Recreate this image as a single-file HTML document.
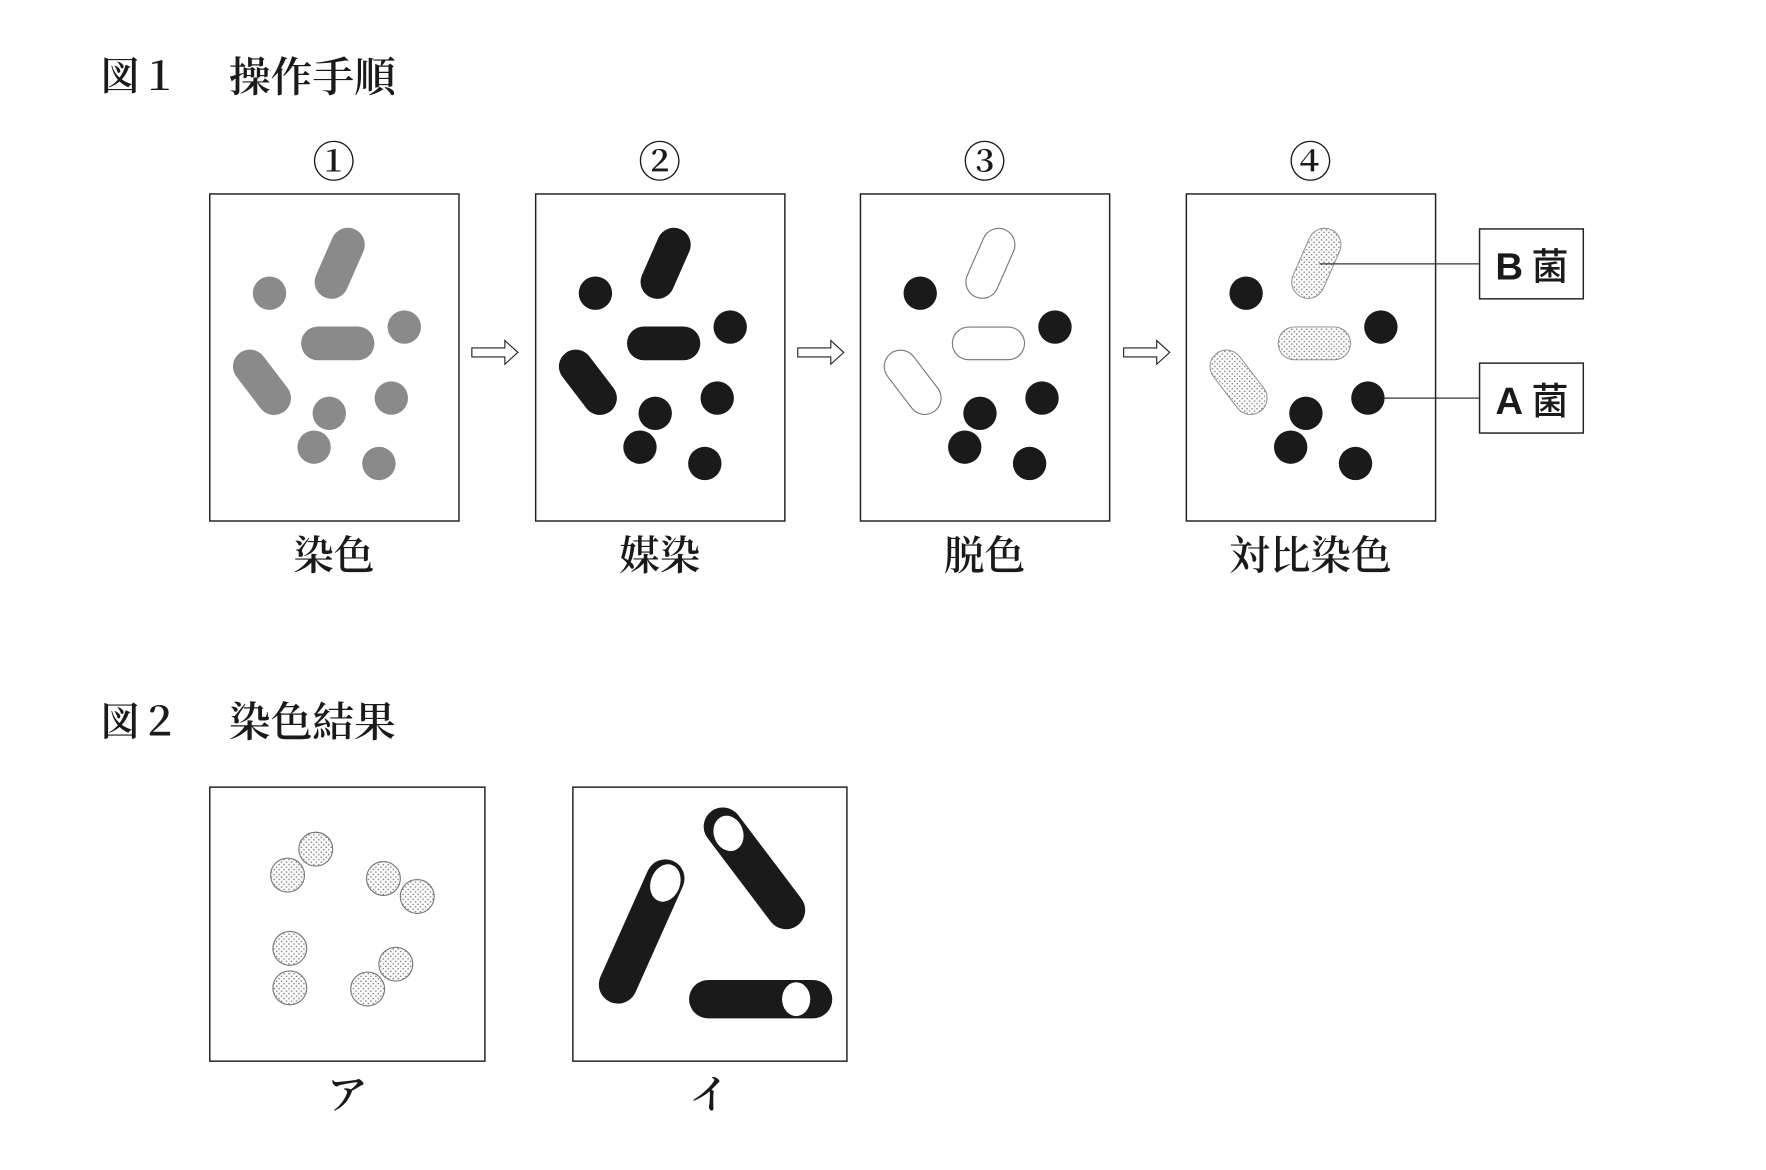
<!DOCTYPE html>
<html><head><meta charset="utf-8"><style>
html,body{margin:0;padding:0;background:#fff;}
svg{display:block;}
.t{font-family:"Liberation Serif","Noto Serif CJK SC",serif;fill:#1a1a1a;font-weight:600;}
.g{font-family:"Liberation Sans","Noto Sans CJK JP",sans-serif;fill:#1a1a1a;font-weight:bold;}
</style></head><body>
<svg width="1766" height="1170" viewBox="0 0 1566 1037.5" preserveAspectRatio="none" xmlns="http://www.w3.org/2000/svg">
<defs>
<pattern id="dots" width="4.4" height="4.4" patternUnits="userSpaceOnUse">
<rect width="4.4" height="4.4" fill="#fafafa"/>
<circle cx="1.1" cy="1.1" r="0.6" fill="#555"/>
<circle cx="3.3" cy="3.3" r="0.6" fill="#555"/>
</pattern>
<g id="cells">
<circle cx="53" cy="88" r="14.8"/>
<circle cx="172.5" cy="118" r="14.8"/>
<circle cx="161" cy="181" r="14.8"/>
<circle cx="106" cy="194.5" r="14.8"/>
<circle cx="92.5" cy="224.5" r="14.8"/>
<circle cx="150" cy="239" r="14.8"/>
</g>
<g id="arrow"><path d="M0,-4 L29.3,-4 L29.3,-10.5 L40.8,0 L29.3,10.5 L29.3,4 L0,4 Z" fill="#fff" stroke="#222" stroke-width="1"/></g>
</defs>
<rect width="1566" height="1037.5" fill="#fff"/>

<text class="t" x="89" y="80" font-size="35">図１</text>
<text class="t" x="203" y="81" font-size="37">操作手順</text>
<text class="t" x="89" y="652" font-size="35">図２</text>
<text class="t" x="203" y="653" font-size="37">染色結果</text>

<g fill="none" stroke="#222" stroke-width="1.3">
<rect x="186" y="172" width="221" height="290"/>
<rect x="475" y="172" width="221" height="290"/>
<rect x="763" y="172" width="221" height="290"/>
<rect x="1052" y="172" width="221" height="290"/>
<rect x="186" y="698" width="244" height="243"/>
<rect x="508" y="698" width="243" height="243"/>
<rect x="1312" y="203" width="92" height="62"/>
<rect x="1312" y="322" width="92" height="62"/>
</g>

<g class="t" font-size="38" text-anchor="middle">
<text x="296" y="157">①</text>
<text x="585" y="157">②</text>
<text x="873" y="157">③</text>
<text x="1162" y="157">④</text>
</g>
<g class="t" font-size="36" text-anchor="middle">
<text x="296" y="505">染色</text>
<text x="585" y="505">媒染</text>
<text x="873" y="505">脱色</text>
<text x="1162" y="505">対比染色</text>
<text x="308" y="983">ア</text>
<text x="629" y="983">イ</text>
</g>

<use href="#arrow" x="418.4" y="312.5"/>
<use href="#arrow" x="707.4" y="312.5"/>
<use href="#arrow" x="996.4" y="312.5"/>

<g transform="translate(186,172)">
<g fill="#8a8a8a"><use href="#cells"/></g>
<g stroke="#8a8a8a" stroke-width="30" stroke-linecap="round" fill="none">
<line x1="122.5" y1="45" x2="108" y2="78"/>
<line x1="96" y1="132.5" x2="131" y2="132.5"/>
<line x1="35.6" y1="153" x2="57" y2="181"/>
</g>
</g>
<g transform="translate(475,172)">
<g fill="#1a1a1a"><use href="#cells"/></g>
<g stroke="#1a1a1a" stroke-width="30" stroke-linecap="round" fill="none">
<line x1="122.5" y1="45" x2="108" y2="78"/>
<line x1="96" y1="132.5" x2="131" y2="132.5"/>
<line x1="35.6" y1="153" x2="57" y2="181"/>
</g>
</g>
<g transform="translate(763,172)">
<g fill="#1a1a1a"><use href="#cells"/></g>
<g stroke="#777" stroke-width="30" stroke-linecap="round" fill="none">
<line x1="122.5" y1="45" x2="108" y2="78"/>
<line x1="96" y1="132.5" x2="131" y2="132.5"/>
<line x1="35.6" y1="153" x2="57" y2="181"/>
</g>
<g stroke="#fff" stroke-width="28" stroke-linecap="round" fill="none">
<line x1="122.5" y1="45" x2="108" y2="78"/>
<line x1="96" y1="132.5" x2="131" y2="132.5"/>
<line x1="35.6" y1="153" x2="57" y2="181"/>
</g>
</g>
<g transform="translate(1052,172)">
<g fill="#1a1a1a"><use href="#cells"/></g>
<g stroke="#888" stroke-width="30" stroke-linecap="round" fill="none">
<line x1="122.5" y1="45" x2="108" y2="78"/>
<line x1="96" y1="132.5" x2="131" y2="132.5"/>
<line x1="35.6" y1="153" x2="57" y2="181"/>
</g>
<g stroke="url(#dots)" stroke-width="28.4" stroke-linecap="round" fill="none">
<line x1="122.5" y1="45" x2="108" y2="78"/>
<line x1="96" y1="132.5" x2="131" y2="132.5"/>
<line x1="35.6" y1="153" x2="57" y2="181"/>
</g>
</g>
<g stroke="#333" stroke-width="1.1">
<line x1="1170" y1="234" x2="1312" y2="234"/>
<line x1="1227" y1="353" x2="1312" y2="353"/>
</g>
<text class="g" x="1326" y="248" font-size="34">B</text>
<text class="g" x="1358" y="248" font-size="33" style="font-weight:500">菌</text>
<text class="g" x="1326" y="367" font-size="34">A</text>
<text class="g" x="1358" y="367" font-size="33" style="font-weight:500">菌</text>

<g fill="url(#dots)" stroke="#777" stroke-width="1">
<circle cx="280" cy="753" r="15"/>
<circle cx="255" cy="776" r="15"/>
<circle cx="340" cy="779" r="15"/>
<circle cx="370" cy="795" r="15"/>
<circle cx="257" cy="841" r="15"/>
<circle cx="257" cy="876" r="15"/>
<circle cx="351" cy="855" r="15"/>
<circle cx="326" cy="877" r="15"/>
</g>

<g stroke="#1a1a1a" stroke-width="34" stroke-linecap="round" fill="none">
<line x1="548" y1="873" x2="590" y2="779"/>
<line x1="641" y1="733" x2="697" y2="807"/>
<line x1="628" y1="886" x2="721" y2="886"/>
</g>
<g fill="#fff">
<ellipse cx="590" cy="783" rx="13" ry="17" transform="rotate(20 590 783)"/>
<ellipse cx="646" cy="739" rx="13" ry="16" transform="rotate(-20 646 739)"/>
<ellipse cx="706" cy="886" rx="12.5" ry="15"/>
</g>
</svg>
</body></html>
